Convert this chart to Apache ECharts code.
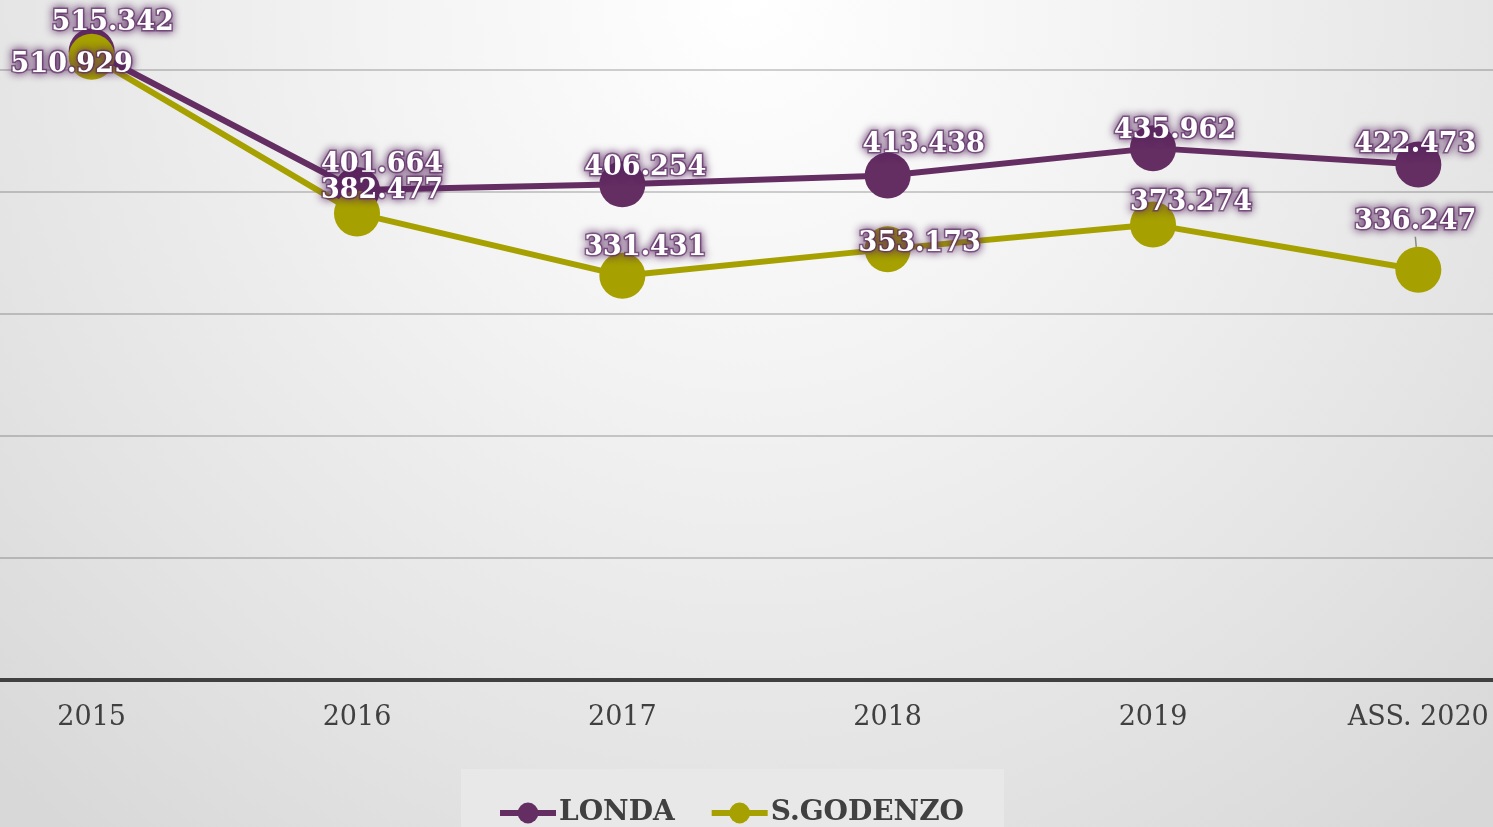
<!DOCTYPE html>
<html>
<head>
<meta charset="utf-8">
<script src="https://cdn.jsdelivr.net/npm/echarts@6/dist/echarts.min.js"></script>
<style>
html,body{margin:0;padding:0;width:1493px;height:827px;overflow:hidden;}
#chart{width:1493px;height:827px;}
</style>
</head>
<body>
<div id="chart"></div>
<script>
// ---- data ----
var categories = ['2015', '2016', '2017', '2018', '2019', 'ASS. 2020'];
var londa = [515.342, 401.664, 406.254, 413.438, 435.962, 422.473];
var godenzo = [510.929, 382.477, 331.431, 353.173, 373.274, 336.247];
var seriesNames = ['LONDA', 'S.GODENZO'];

// ---- label placement (styling only) ----
var londaLabelShift = [[21,-28],[25,-25],[23,-16],[36,-31],[22,-17],[-3,-20]];
var godenzoLabelShift = [[-20,8],[25,-22],[23,-28],[32,-5],[38,-22],[-3,-48]];

function fmt(v){ return v.toFixed(3); }

var FONT = 'DejaVu Serif';
var chart = echarts.init(document.getElementById('chart'), null, {renderer:'canvas'});

function labelStyle(){
  return {
    show: true,
    position: 'inside',
    color: '#ffffff',
    fontFamily: FONT,
    fontWeight: 'bold',
    fontSize: 27,
    textShadowColor: 'rgba(88,38,96,1)',
    textShadowBlur: 8,
    textBorderColor: 'rgba(94,45,102,0.65)',
    textBorderWidth: 3,
    formatter: function(p){ return fmt(p.value); }
  };
}

function buildData(vals, leaderIdx){
  return vals.map(function(v, i){
    var d = {value: v};
    if (i === leaderIdx) {
      d.labelLine = {show: true, lineStyle: {color: '#888888', width: 1.5}};
    }
    return d;
  });
}

var option = {
  backgroundColor: new echarts.graphic.RadialGradient(0.5, 0, 1.3, [
    {offset: 0, color: '#ffffff'},
    {offset: 0.35, color: '#f3f3f3'},
    {offset: 0.75, color: '#e3e3e3'},
    {offset: 1, color: '#d8d8d8'}
  ]),
  animation: false,
  grid: {outerBoundsMode: 'none', left: -41, right: -58, top: -52, bottom: 147, containLabel: false},
  legend: {
    data: seriesNames,
    top: 769,
    left: 461,
    backgroundColor: '#e8e8e8',
    padding: [30, 40, 30, 36],
    itemWidth: 56,
    itemHeight: 26,
    itemGap: 34,
    lineStyle: {width: 6},
    textStyle: {fontFamily: FONT, fontWeight: 'bold', fontSize: 28, color: '#404040', padding: [0,0,0,-2]}
  },
  xAxis: {
    type: 'category',
    data: categories,
    boundaryGap: true,
    axisLine: {lineStyle: {color: '#404040', width: 4}},
    axisTick: {show: false},
    axisLabel: {fontFamily: FONT, fontSize: 27, color: '#404040', margin: 24, interval: 0}
  },
  yAxis: {
    type: 'value',
    min: 0, max: 600, interval: 100,
    axisLine: {show: false},
    axisTick: {show: false},
    axisLabel: {show: false},
    splitLine: {lineStyle: {color: 'rgba(0,0,0,0.18)', width: 2}}
  },
  series: [
    {
      name: seriesNames[0],
      type: 'line',
      data: buildData(londa, -1),
      symbol: 'circle',
      symbolSize: 46,
      itemStyle: {color: '#642e63'},
      lineStyle: {color: '#642e63', width: 6},
      label: labelStyle(),
      labelLayout: function(p){ var s = londaLabelShift[p.dataIndex]; return {dx: s[0], dy: s[1]}; },
      z: 3
    },
    {
      name: seriesNames[1],
      type: 'line',
      data: buildData(godenzo, 5),
      symbol: 'circle',
      symbolSize: 46,
      itemStyle: {color: '#a6a100'},
      lineStyle: {color: '#a6a100', width: 6},
      label: labelStyle(),
      labelLine: {show: false},
      labelLayout: function(p){ var s = godenzoLabelShift[p.dataIndex]; return {dx: s[0], dy: s[1]}; },
      z: 4
    }
  ]
};
chart.setOption(option);
</script>
</body>
</html>
